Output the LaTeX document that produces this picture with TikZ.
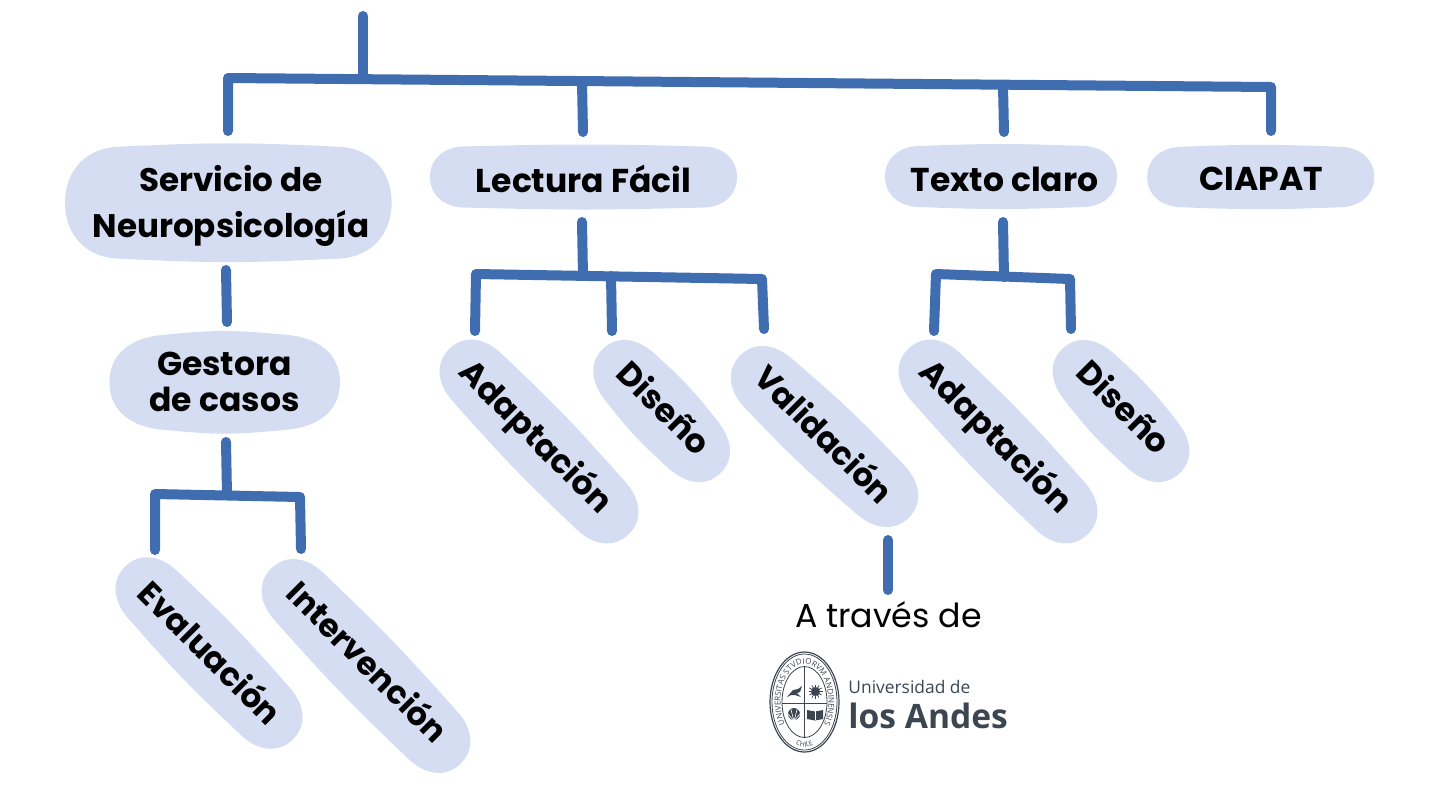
\documentclass[tikz,border=0pt]{standalone}
\usepackage{fontspec}
\setmainfont{Poppins}
\newfontfamily\logofont{Open Sans}
\usetikzlibrary{decorations.text}
\definecolor{pillfill}{HTML}{D4DDF1}
\definecolor{wirec}{HTML}{406CB0}
\definecolor{logoc}{HTML}{3C4650}
\tikzset{
  x=0.5pt,y=-0.5pt,
  wire/.style={draw=wirec,line width=5pt,line cap=round,line join=round},
  labelbox/.style={rectangle,inner sep=0pt,align=center,font=\fontsize{#1}{23}\selectfont\bfseries,text=black},
  labelbox/.default=16.5,
  tilted/.style={labelbox=#1,rotate=-45},
  tilted/.default=16.5,
  sealline/.style={draw=logoc,line width=0.4pt},
  sealink/.style={fill=logoc,draw=none},
}
% soft pill: centre x,y; half length a, half width b; corner length r; edge bulge d; turn angle
\newcommand\softpill[7]{%
  \pgfmathsetmacro\pA{#3}\pgfmathsetmacro\pB{#4}%
  \pgfmathsetmacro\pCx{#3-#5}\pgfmathsetmacro\pCy{#4-#6}%
  \pgfmathsetmacro\pKx{\pCx+0.55*#5}\pgfmathsetmacro\pKy{\pCy-0.825*#6*#5/\pCx}%
  \pgfmathsetmacro\pLx{\pCx*2/3}\pgfmathsetmacro\pLy{\pCy+0.5*#6}%
  \pgfmathsetmacro\pMx{\pCx/3}\pgfmathsetmacro\pNy{0.58*#4}%
  \fill[pillfill,shift={(#1,#2)},rotate=-#7]
    (-\pA,0) .. controls (-\pA,-\pNy) and (-\pKx,-\pKy) .. (-\pCx,-\pCy)
    .. controls (-\pLx,-\pLy) and (-\pMx,-\pB) .. (0,-\pB)
    .. controls (\pMx,-\pB) and (\pLx,-\pLy) .. (\pCx,-\pCy)
    .. controls (\pKx,-\pKy) and (\pA,-\pNy) .. (\pA,0)
    .. controls (\pA,\pNy) and (\pKx,\pKy) .. (\pCx,\pCy)
    .. controls (\pLx,\pLy) and (\pMx,\pB) .. (0,\pB)
    .. controls (-\pMx,\pB) and (-\pLx,\pLy) .. (-\pCx,\pCy)
    .. controls (-\pKx,\pKy) and (-\pA,\pNy) .. (-\pA,0) -- cycle;}
\begin{document}
\begin{tikzpicture}
\useasboundingbox (0,0) rectangle (1440,810);
% pill shapes
\softpill{228.3}{202.7}{163.3}{59.4}{52}{3.5}{0}
\softpill{583.5}{177}{153.5}{32.5}{33}{2}{0}
\softpill{1001}{176.5}{116}{32.5}{33}{2}{0}
\softpill{1260.7}{177}{113.5}{32.2}{33}{2}{0}
\softpill{224.7}{382.3}{115.3}{51.3}{52}{4}{0}
\softpill{539}{441.5}{129}{36.5}{39}{2.5}{46}
\softpill{661.6}{411}{85.5}{36.5}{39}{2.5}{47}
\softpill{824.5}{436.5}{117}{36.5}{39}{2.5}{43.5}
\softpill{998}{441.5}{129}{36.5}{39}{2.5}{46}
\softpill{1121}{411}{85.5}{36.5}{39}{2.5}{47}
\softpill{209}{653}{120.5}{36.5}{39}{2.5}{46}
\softpill{366}{666}{136}{36.5}{39}{2.5}{46}
% labels
\node[labelbox=16.3] (svc) at (231,206) {Servicio de\\Neuropsicología};
\node[labelbox] (lec) at (583.5,178.5) {Lectura Fácil};
\node[labelbox] (txt) at (1004.5,179) {Texto claro};
\node[labelbox] (cia) at (1261.5,179) {CIAPAT};
\node[labelbox,font=\fontsize{16.5}{18}\selectfont\bfseries] (ges) at (224.5,381.5) {Gestora\\de casos};
\node[tilted] (ad1) at (535,438) {Adaptación};
\node[tilted] (di1) at (665,407) {Diseño};
\node[tilted=16.1] (val) at (825,433.5) {Validación};
\node[tilted] (ad2) at (995,437.5) {Adaptación};
\node[tilted] (di2) at (1125,406.5) {Diseño};
\node[tilted=16.3] (eva) at (211,652) {Evaluación};
\node[tilted=16.1] (int) at (368.5,661) {Intervención};
\node[font=\fontsize{16.6}{20}\selectfont,inner sep=0pt] (atr) at (888.5,615) {A través de};
% connector coordinates
\coordinate (top) at (363,16);
\coordinate (ja) at (228,78);
\coordinate (jb) at (363,79);
\coordinate (jc) at (582,82);
\coordinate (jd) at (1003,86);
\coordinate (je) at (1271,87);
\coordinate (sa) at (228,131);
\coordinate (sc) at (583,132);
\coordinate (sd) at (1004,132);
\coordinate (se) at (1271,131);
\coordinate (svcb) at (226,270);
\coordinate (gest) at (227,322);
\coordinate (lecb) at (582,222);
\coordinate (la) at (476,274);
\coordinate (lb) at (611,276);
\coordinate (lc) at (762,279);
\coordinate (lm) at (583,276);
\coordinate (lad) at (475,331);
\coordinate (ldi) at (612,331);
\coordinate (lva) at (764,329);
\coordinate (txtb) at (1003,222);
\coordinate (ta) at (936,274);
\coordinate (tb) at (1070,279);
\coordinate (tm) at (1004,277);
\coordinate (tad) at (934,331);
\coordinate (tdi) at (1071,329);
\coordinate (gesb) at (226,442);
\coordinate (ga) at (155,494);
\coordinate (gb) at (300,497);
\coordinate (gm) at (227,495);
\coordinate (gev) at (155,550);
\coordinate (gin) at (301,549);
\coordinate (vs) at (888,540);
\coordinate (ve) at (888,590);
% connectors
\draw[wire] (top) -- (jb);
\draw[wire] (sa) -- (ja) -- (je) -- (se);
\draw[wire] (jc) -- (sc);
\draw[wire] (jd) -- (sd);
\draw[wire] (svcb) -- (gest);
\draw[wire] (lecb) -- (lm);
\draw[wire] (lad) -- (la) -- (lc) -- (lva);
\draw[wire] (lb) -- (ldi);
\draw[wire] (txtb) -- (tm);
\draw[wire] (tad) -- (ta) -- (tb) -- (tdi);
\draw[wire] (gesb) -- (gm);
\draw[wire] (gev) -- (ga) -- (gb) -- (gin);
\draw[wire] (vs) -- (ve);
% logo seal
\draw[sealline,line width=0.6pt] (804.5,702) ellipse [x radius=34.5,y radius=50];
\draw[sealline] (804.5,702) ellipse [x radius=32.5,y radius=48];
\draw[sealline] (804.5,702) ellipse [x radius=22.5,y radius=35.5];
\draw[sealline] (782,703) -- (827,703);
\draw[sealline] (804.5,666.5) -- (804.5,737.5);
\path[decorate,decoration={text along path,text align=center,text={|\logofont\fontsize{4}{4}\selectfont\color{logoc}|UNIVERSITAS STVDIORVM ANDINENSIS}}]
  (790.73,733.07) arc[start angle=125,end angle=415,x radius=24,y radius=38];
\path[decorate,decoration={text along path,text align=center,text={|\logofont\fontsize{3.4}{4}\selectfont\color{logoc}|CHILE}}]
  (791.36,741.7) arc[start angle=118,end angle=62,x radius=28,y radius=45];
% quadrant emblems
\fill[sealink] (787,697) -- (793,690) -- (798,689) -- (802,686) -- (800,692) -- (797,693) -- (801,697) -- (795,695) -- (791,695) -- cycle;
\fill[sealink] (815.5,691.5) circle [radius=4.5];
\foreach \a in {0,30,...,330}{\draw[sealline] (815.5,691.5) -- ++(\a:7);}
\fill[sealink] (794,714) ellipse [x radius=6,y radius=6];
\foreach \a in {50,75,105,130}{\draw[white,line width=0.3pt] (794,721) -- ++(\a:-13);}
\fill[sealink] (807,710) -- (815,711.5) -- (823,710) -- (823,719) -- (815,720.5) -- (807,719) -- cycle;
\draw[white,line width=0.4pt] (815,711) -- (815,720);
% logo text
\node[text=logoc,inner sep=0pt,anchor=west,font=\logofont\fontsize{8.7}{10}\selectfont] (uni) at (848,687) {Universidad de};
\node[text=logoc,inner sep=0pt,anchor=west,font=\logofont\fontsize{16.8}{20}\selectfont\bfseries] (and) at (848,715.5) {los Andes};
\end{tikzpicture}
\end{document}
